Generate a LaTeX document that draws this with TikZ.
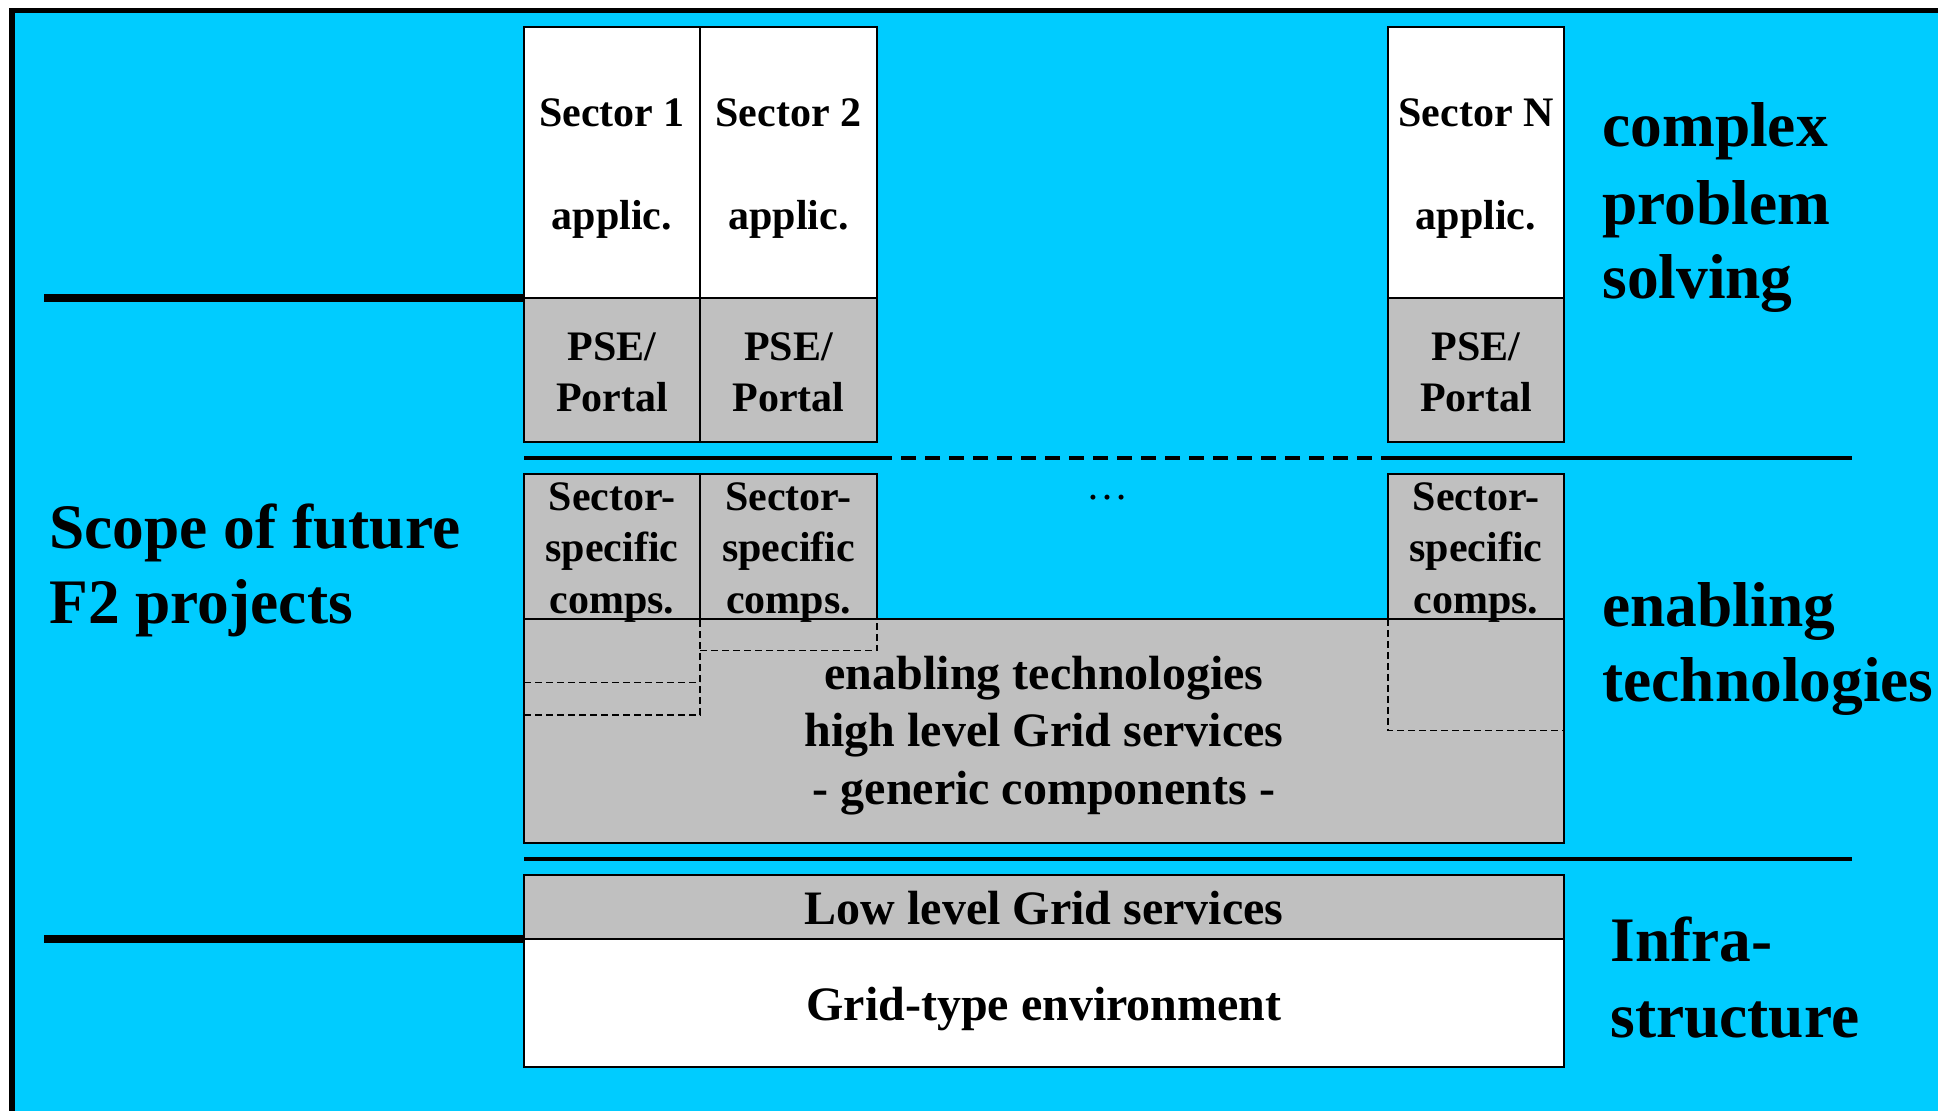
\documentclass[tikz,border=0pt]{standalone}
\usepackage{fontspec}
\setmainfont{Liberation Serif}
\usetikzlibrary{fit}
\definecolor{skyc}{HTML}{00CCFF}
\definecolor{boxgray}{HTML}{C0C0C0}
\begin{document}
\begin{tikzpicture}[x=0.5pt,y=-0.5pt,
  boxw/.style={draw=black, line width=1pt, fill=white, inner sep=0pt, outer sep=0pt},
  boxg/.style={draw=black, line width=1pt, fill=boxgray, inner sep=0pt, outer sep=0pt},
  txs/.style={font=\fontsize{21}{25}\selectfont\bfseries, anchor=base, inner sep=0pt},
  txm/.style={font=\fontsize{24}{28}\selectfont\bfseries, anchor=base, inner sep=0pt},
  txl/.style={font=\fontsize{31.7}{38}\selectfont\bfseries, anchor=base west, inner sep=0pt},
  thickline/.style={line width=4pt},
  sepline/.style={line width=2pt},
  sepdash/.style={line width=2pt, dash pattern=on 7.5pt off 4.5pt},
  thindash/.style={line width=0.7pt, dash pattern=on 3.5pt off 2pt},
]
\useasboundingbox (0,0) rectangle (1938,1111);
\fill[white] (0,0) rectangle (1938,1111);
\fill[skyc] (12,10.5) rectangle (1938,1111);
\draw[line width=3pt] (12,1111) -- (12,8);
\draw[line width=2.5pt] (9,10.5) -- (1938,10.5);

% application columns
\node[boxw, fit={(524,27) (700,298)}] (app1) {};
\node[boxw, fit={(700,27) (877,298)}] (app2) {};
\node[boxw, fit={(1388,27) (1564,298)}] (appN) {};
\node[boxg, fit={(524,298) (700,442)}] (pse1) {};
\node[boxg, fit={(700,298) (877,442)}] (pse2) {};
\node[boxg, fit={(1388,298) (1564,442)}] (pseN) {};

% enabling technologies block
\node[boxg, fit={(524,619) (1564,843)}] (enab) {};
\node[boxg, fit={(524,474.5) (700,619)}] (ss1) {};
\node[boxg, fit={(700,474.5) (877,619)}] (ss2) {};
\node[boxg, fit={(1388,474.5) (1564,619)}] (ssN) {};

% dashed extensions
\coordinate (d1a) at (524,682.7);
\coordinate (d1b) at (700,682.7);
\coordinate (d1c) at (524,715);
\coordinate (d1d) at (700,715);
\coordinate (d2a) at (700,650.7);
\coordinate (d2b) at (877,650.7);
\coordinate (dNa) at (1388,730.7);
\coordinate (dNb) at (1564,730.7);
\draw[thindash] (d1a) -- (d1b);
\draw[thindash] (d1c) -- (d1d) -- (ss1.south east);
\draw[thindash] (d2a) -- (d2b) -- (ss2.south east);
\draw[thindash] (ssN.south west) -- (dNa) -- (dNb);

% infrastructure
\node[boxg, fit={(524,874.7) (1564,938.5)}] (low) {};
\node[boxw, fit={(524,938.5) (1564,1066.7)}] (gridenv) {};

% separators
\coordinate (s1a) at (524,458.5);
\coordinate (s1b) at (877,458.5);
\coordinate (s1c) at (1388,458.5);
\coordinate (s1d) at (1852,458.5);
\draw[sepline] (s1a) -- (s1b);
\draw[sepdash] (s1b) -- (s1c);
\draw[sepline] (s1c) -- (s1d);
\coordinate (s2a) at (524,859);
\coordinate (s2b) at (1852,859);
\draw[sepline] (s2a) -- (s2b);

% scope lines
\coordinate (la) at (44,298);
\coordinate (lb) at (44,938.5);
\draw[thickline] (la) -- (pse1.north west);
\draw[thickline] (lb) -- (gridenv.north west);

% column texts
\node[txs] (t11) at (612,126.7) {Sector 1};
\node[txs] (t12) at (612,230) {applic.};
\node[txs] (t21) at (788.5,126.7) {Sector 2};
\node[txs] (t22) at (788.5,230) {applic.};
\node[txs] (tN1) at (1476,126.7) {Sector N};
\node[txs] (tN2) at (1476,230) {applic.};
\foreach \cx/\nm in {612/a, 788.5/b, 1476/c} {
  \node[txs] (p1\nm) at (\cx,360.7) {PSE/};
  \node[txs] (p2\nm) at (\cx,411.7) {Portal};
  \node[txs] (q1\nm) at (\cx,511) {Sector-};
  \node[txs] (q2\nm) at (\cx,561.7) {specific};
  \node[txs] (q3\nm) at (\cx,613.3) {comps.};
}
\node[font=\fontsize{21}{25}\selectfont, anchor=base, inner sep=0pt] (dots) at (1107,500) {\ldots};

% central texts
\node[txm] (e1) at (1044,689.3) {enabling technologies};
\node[txm] (e2) at (1044,746.7) {high level Grid services};
\node[txm] (e3) at (1044,805) {- generic components -};
\node[txm] (lowt) at (1044,924) {Low level Grid services};
\node[txm] (gridt) at (1044,1020) {Grid-type environment};

% side labels
\node[txl] (sc1) at (49,549) {Scope of future};
\node[txl] (sc2) at (49,624) {F2 projects};
\node[txl] (r1) at (1602,146.4) {complex};
\node[txl] (r2) at (1602,224.5) {problem};
\node[txl] (r3) at (1602,298.5) {solving};
\node[txl] (r4) at (1602,626.5) {enabling};
\node[txl] (r5) at (1602,701.5) {technologies};
\node[txl] (r6) at (1610,961.7) {Infra-};
\node[txl] (r7) at (1610,1037.3) {structure};
\end{tikzpicture}
\end{document}
